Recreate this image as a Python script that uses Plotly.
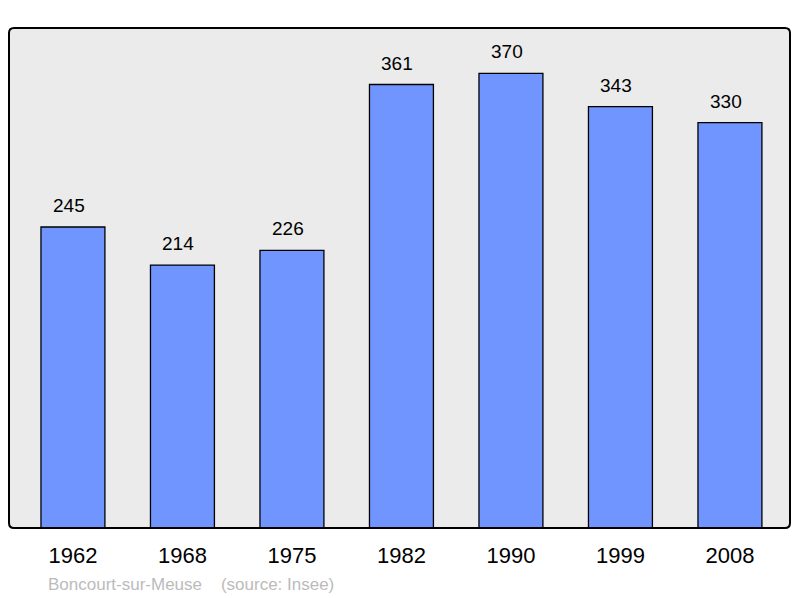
import plotly.graph_objects as go

years = ["1962", "1968", "1975", "1982", "1990", "1999", "2008"]
population = [245, 214, 226, 361, 370, 343, 330]
footer_label = "Boncourt-sur-Meuse    (source: Insee)"

W, H = 800, 598
L, R, T, B = 9, 10, 28, 70
pw, ph = W - L - R, H - T - B

xs = list(range(len(years)))

fig = go.Figure()
fig.add_trace(go.Bar(
    x=xs, y=population, width=0.584,
    marker=dict(color="#7095ff", line=dict(color="#000000", width=1.3)),
    hoverinfo="skip",
))

for x, v in zip(xs, population):
    fig.add_annotation(x=x, y=v, text=str(v), showarrow=False,
                       yanchor="bottom", yshift=9, xshift=-4,
                       font=dict(family="Liberation Sans, Arial", size=19, color="#000000"))

# rounded border of the plot area
r = 5
rx, ry = r / pw, r / ph
path = (f"M {rx},0 L {1-rx},0 Q 1,0 1,{ry} L 1,{1-ry} Q 1,1 {1-rx},1 "
        f"L {rx},1 Q 0,1 0,{1-ry} L 0,{ry} Q 0,0 {rx},0 Z")
fig.add_shape(type="path", xref="paper", yref="paper", path=path,
              line=dict(color="#000000", width=2), layer="above")

fig.add_annotation(xref="paper", yref="paper", x=(46 - L) / pw, y=-(584 - (T + ph)) / ph,
                   xanchor="left", yanchor="middle", showarrow=False, text=footer_label,
                   font=dict(family="Liberation Sans, Arial", size=17, color="#bbbbbb"))

fig.update_layout(
    width=W, height=H,
    margin=dict(l=L, r=R, t=T, b=B),
    paper_bgcolor="#ffffff", plot_bgcolor="#ebebeb",
    showlegend=False,
    xaxis=dict(range=[-0.584, -0.584 + pw / 109.5], tickvals=xs, ticktext=years,
               showgrid=False, zeroline=False, showline=False,
               ticks="outside", ticklen=8, tickcolor="rgba(0,0,0,0)",
               tickfont=dict(family="Liberation Sans, Arial", size=22, color="#000000")),
    yaxis=dict(range=[0, 407], showgrid=False, zeroline=False, showline=False,
               showticklabels=False, ticks=""),
)

fig.write_html("out.html", config={"displayModeBar": False},
               post_script="document.body.style.margin='0';document.body.style.overflow='hidden';")
